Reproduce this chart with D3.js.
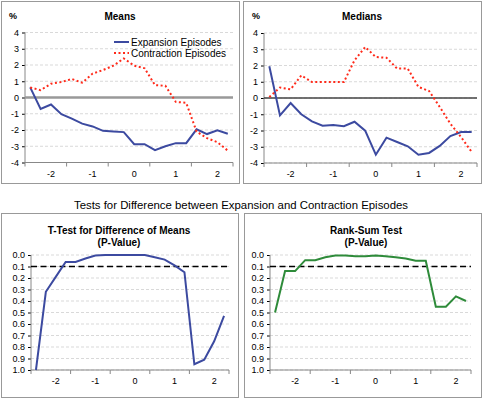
<!DOCTYPE html>
<html>
<head>
<meta charset="utf-8">
<script src="https://cdn.jsdelivr.net/npm/d3@7"></script>
<style>
  body { margin: 0; background: #fff; }
  svg { display: block; font-family: 'Liberation Sans', Arial, sans-serif; }
</style>
</head>
<body>
<div id="viz"></div>
<script>
// quarters relative to the turning point
var quarters = [-2.5, -2.25, -2, -1.75, -1.5, -1.25, -1, -0.75, -0.5, -0.25,
                0, 0.25, 0.5, 0.75, 1, 1.25, 1.5, 1.75, 2, 2.25];
var xLabels = [-2, -1, 0, 1, 2];

var meansExpansion = [0.62, -0.70, -0.43, -1.03, -1.30, -1.61, -1.78, -2.05, -2.09, -2.13,
                      -2.87, -2.87, -3.24, -3.00, -2.81, -2.81, -1.96, -2.25, -2.02, -2.23];
var meansContraction = [0.62, 0.45, 0.85, 0.95, 1.14, 0.91, 1.47, 1.69, 1.96, 2.40,
                        1.96, 1.80, 0.76, 0.72, -0.27, -0.33, -2.10, -2.50, -2.75, -3.27];

var mediansExpansion = [1.95, -1.07, -0.31, -1.00, -1.44, -1.70, -1.66, -1.74, -1.46, -2.01,
                        -3.49, -2.44, -2.71, -2.97, -3.49, -3.38, -2.95, -2.34, -2.09, -2.09];
var mediansContraction = [0.06, 0.64, 0.53, 1.39, 0.98, 0.98, 0.98, 0.98, 2.32, 3.14,
                          2.52, 2.48, 1.81, 1.81, 0.68, 0.43, -0.55, -1.58, -2.40, -3.32];

var tTestP = [1.00, 0.32, 0.19, 0.06, 0.06, 0.03, 0.005, 0, 0, 0,
              0, 0, 0.02, 0.04, 0.09, 0.15, 0.95, 0.91, 0.75, 0.53];
var rankSumP = [0.50, 0.14, 0.14, 0.045, 0.045, 0.02, 0.005, 0.005, 0.01, 0.01,
                0.005, 0.01, 0.02, 0.03, 0.05, 0.05, 0.45, 0.45, 0.36, 0.40];

var pctTicks = [4, 3, 2, 1, 0, -1, -2, -3, -4];
var pTicks = [0, 0.1, 0.2, 0.3, 0.4, 0.5, 0.6, 0.7, 0.8, 0.9, 1.0];
var significance = 0.1;

var blue = '#3c4aa0',
    red = '#ff2a1a',
    green = '#2e8b3a';

var svg = d3.select('#viz').append('svg')
  .attr('width', 483)
  .attr('height', 399);

function panelBox(x, y, w, h) {
  svg.append('rect')
    .attr('x', x + 0.5).attr('y', y + 0.5)
    .attr('width', w).attr('height', h)
    .attr('fill', 'none')
    .attr('stroke', '#999');
}

function drawPanel(opt) {
  var xScale = d3.scaleBand()
    .domain(quarters)
    .range([opt.left, opt.right])
    .padding(0);

  var yScale = d3.scaleLinear()
    .domain(opt.domain)
    .range([opt.bottom, opt.top]);

  var g = svg.append('g');

  // dashed grid
  g.selectAll('line.grid').data(opt.yTicks)
    .enter().append('line')
      .attr('class', 'grid')
      .attr('x1', opt.left).attr('x2', opt.right)
      .attr('y1', function(d) { return yScale(d); })
      .attr('y2', function(d) { return yScale(d); })
      .attr('stroke', '#d9d9d9')
      .attr('stroke-dasharray', '3,2');

  // y axis
  var yAxis = d3.axisLeft(yScale)
    .tickValues(opt.yTicks)
    .tickSize(3)
    .tickFormat(opt.yFormat);
  var yGuide = g.append('g')
    .attr('transform', 'translate(' + opt.left + ',0)')
    .call(yAxis);
  yGuide.select('.domain').remove();
  yGuide.append('line')
    .attr('y1', opt.top).attr('y2', opt.bottom)
    .attr('stroke', '#888');

  // x axis: labels on whole years, tick marks every 4 quarters
  var xAxis = d3.axisBottom(xScale)
    .tickValues(xLabels)
    .tickSize(0)
    .tickPadding(8)
    .tickFormat(function(d) { return d; });
  var xGuide = g.append('g')
    .attr('transform', 'translate(0,' + opt.bottom + ')')
    .call(xAxis);
  xGuide.select('.domain').remove();
  xGuide.append('line')
    .attr('x1', opt.left).attr('x2', opt.right)
    .attr('stroke', '#888');
  var bounds = quarters.filter(function(d, i) { return i % 4 == 0; });
  xGuide.selectAll('line.qt').data(bounds)
    .enter().append('line')
      .attr('class', 'qt')
      .attr('x1', function(d) { return xScale(d); })
      .attr('x2', function(d) { return xScale(d); })
      .attr('y2', 4)
      .attr('stroke', '#888');
  xGuide.append('line')
    .attr('x1', opt.right).attr('x2', opt.right)
    .attr('y2', 4)
    .attr('stroke', '#888');

  svg.selectAll('.tick text')
    .attr('font-size', 9)
    .attr('fill', '#000');

  if (opt.zeroLine) {
    g.append('line')
      .attr('x1', opt.left).attr('x2', opt.right)
      .attr('y1', yScale(0)).attr('y2', yScale(0))
      .attr('stroke', opt.zeroLine.color)
      .attr('stroke-width', opt.zeroLine.width);
  }

  if (opt.refLine != null) {
    g.append('line')
      .attr('x1', opt.left).attr('x2', opt.right)
      .attr('y1', yScale(opt.refLine)).attr('y2', yScale(opt.refLine))
      .attr('stroke', '#000')
      .attr('stroke-width', 1.5)
      .attr('stroke-dasharray', '6,3.5');
  }

  var line = d3.line()
    .x(function(d, i) { return xScale(quarters[i]) + xScale.bandwidth() / 2; })
    .y(function(d) { return yScale(d); });

  opt.series.forEach(function(s) {
    g.append('path')
      .datum(s.values)
      .attr('d', line)
      .attr('fill', 'none')
      .attr('stroke', s.color)
      .attr('stroke-width', 2)
      .attr('stroke-dasharray', s.dash || null);
  });

  // titles
  opt.title.forEach(function(t, i) {
    svg.append('text')
      .attr('x', opt.titleX)
      .attr('y', opt.titleY + i * 12)
      .attr('text-anchor', 'middle')
      .attr('font-size', 10)
      .attr('font-weight', 'bold')
      .text(t);
  });
}

panelBox(1, 1, 238, 182);
panelBox(243, 1, 238, 182);
panelBox(1, 213, 237, 184);
panelBox(244, 213, 237, 184);

svg.append('text').attr('x', 9).attr('y', 19).attr('font-size', 9).attr('font-weight', 'bold').text('%');
svg.append('text').attr('x', 252).attr('y', 19).attr('font-size', 9).attr('font-weight', 'bold').text('%');

drawPanel({
  left: 25, right: 233, top: 32.5, bottom: 162.5,
  domain: [-4, 4], yTicks: pctTicks,
  yFormat: function(d) { return d; },
  zeroLine: { color: '#999', width: 2.5 },
  series: [
    { values: meansExpansion, color: blue },
    { values: meansContraction, color: red, dash: '2,2.5' }
  ],
  title: ['Means'], titleX: 120, titleY: 20
});

drawPanel({
  left: 264, right: 477, top: 33, bottom: 163,
  domain: [-4, 4], yTicks: pctTicks,
  yFormat: function(d) { return d; },
  zeroLine: { color: '#444', width: 1.5 },
  series: [
    { values: mediansExpansion, color: blue },
    { values: mediansContraction, color: red, dash: '2,2.5' }
  ],
  title: ['Medians'], titleX: 362, titleY: 20
});

drawPanel({
  left: 31, right: 229, top: 255, bottom: 370,
  domain: [1, 0], yTicks: pTicks,
  yFormat: d3.format('.1f'),
  refLine: significance,
  series: [ { values: tTestP, color: blue } ],
  title: ['T-Test for Difference of Means', '(P-Value)'], titleX: 119, titleY: 234
});

drawPanel({
  left: 270, right: 471, top: 255, bottom: 370,
  domain: [1, 0], yTicks: pTicks,
  yFormat: d3.format('.1f'),
  refLine: significance,
  series: [ { values: rankSumP, color: green } ],
  title: ['Rank-Sum Test', '(P-Value)'], titleX: 366, titleY: 234
});

// legend for the means panel
var legend = svg.append('g').attr('transform', 'translate(114,42)');
[['Expansion Episodes', blue, null], ['Contraction Episodes', red, '2,2.5']].forEach(function(l, i) {
  legend.append('line')
    .attr('x1', 0).attr('x2', 15)
    .attr('y1', i * 11).attr('y2', i * 11)
    .attr('stroke', l[1])
    .attr('stroke-width', 2)
    .attr('stroke-dasharray', l[2]);
  legend.append('text')
    .attr('x', 17).attr('y', i * 11 + 3.5)
    .attr('font-size', 10)
    .text(l[0]);
});

svg.append('text')
  .attr('x', 241).attr('y', 209)
  .attr('text-anchor', 'middle')
  .attr('font-size', 11.4)
  .text('Tests for Difference between Expansion and Contraction Episodes');
</script>
</body>
</html>
